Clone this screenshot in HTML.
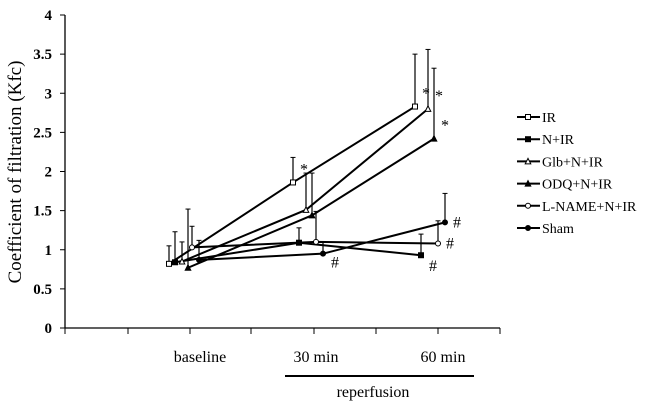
<!DOCTYPE html>
<html><head><meta charset="utf-8"><style>
body{margin:0;background:#fff;}
svg{display:block;font-family:"Liberation Serif",serif;}
</style></head><body>
<svg id="chart" width="646" height="402"></svg>
<script>
const categories=["baseline","30 min","60 min"];
const seriesNames=["IR","N+IR","Glb+N+IR","ODQ+N+IR","L-NAME+N+IR","Sham"];
const valIR=[0.82,1.86,2.83];
const valNIR=[0.84,1.09,0.93];
const valGlb=[0.85,1.51,2.80];
const valODQ=[0.77,1.44,2.42];
const valLN=[1.03,1.10,1.08];
const valSham=[0.87,0.95,1.35];
const errIR=[1.05,2.18,3.50];
const errNIR=[1.23,1.28,1.20];
const errGlb=[1.10,1.98,3.56];
const errODQ=[1.52,1.98,3.32];
const errLN=[1.30,1.49,1.37];
const errSham=[1.12,1.10,1.72];
const yTicks=[0,0.5,1,1.5,2,2.5,3,3.5,4];
const yTickLabels=["0","0.5","1","1.5","2","2.5","3","3.5","4"];
const sigLabels=[["","*","*"],["","","#"],["","","*"],["","","*"],["","","#"],["","#","#"]];

const NS="http://www.w3.org/2000/svg";
const svg=document.getElementById('chart');
function el(t,a,p){const e=document.createElementNS(NS,t);for(const k in a)e.setAttribute(k,a[k]);(p||svg).appendChild(e);return e;}
const y=v=>328-v*78.25;
const catX=[186,310,432];
const offs=[-17,-11,-4,2,6,13];
const x=(c,s)=>catX[c]+offs[s];

const ax=el('line',{x1:65,y1:328,x2:500,y2:328,stroke:'#000','stroke-width':1.3});

const ay=el('line',{x1:65,y1:15,x2:65,y2:328,stroke:'#000','stroke-width':1.3});

yTicks.forEach((v,i)=>{
  el('line',{x1:60,y1:y(v),x2:65,y2:y(v),stroke:'#000'});
  const t=el('text',{x:52,y:y(v)+5,'text-anchor':'end','font-size':15,'font-weight':'bold'});
  t.textContent=yTickLabels[i];
  
});
[65,128,190,251,314,376,438,500].forEach(tx=>el('line',{x1:tx,y1:328,x2:tx,y2:334,stroke:'#000'}));
const labX=[200,316,443];
categories.forEach((c,i)=>{
  const t=el('text',{x:labX[i],y:362,'text-anchor':'middle','font-size':16});
  t.textContent=c;
  
});
el('line',{x1:285,y1:376,x2:474,y2:376,stroke:'#000','stroke-width':2});
const rp=el('text',{x:373,y:397,'text-anchor':'middle','font-size':16});rp.textContent='reperfusion';

const yt=el('text',{transform:'translate(21,172) rotate(-90)','text-anchor':'middle','font-size':19});
yt.textContent='Coefficient of filtration (Kfc)';


const vals=[valIR,valNIR,valGlb,valODQ,valLN,valSham];
const errs=[errIR,errNIR,errGlb,errODQ,errLN,errSham];
const markers=['sq-open','sq','tri-open','tri','circ-open','circ'];
function marker(kind,cx,cy,g){
  if(kind.startsWith('sq'))el('rect',{x:cx-2.5,y:cy-2.5,width:5,height:5,fill:kind==='sq'?'#000':'#fff',stroke:'#000'},g);
  else if(kind.startsWith('tri'))el('polygon',{points:`${cx},${cy-3} ${cx-2.8},${cy+2.5} ${cx+2.8},${cy+2.5}`,fill:kind==='tri'?'#000':'#fff',stroke:'#000'},g);
  else el('circle',{cx:cx,cy:cy,r:2.5,fill:kind==='circ'?'#000':'#fff',stroke:'#000'},g);
}
vals.forEach((vs,s)=>{
  const g=el('g',{});
  
  
  vs.forEach((v,c)=>{
    const ex=x(c,s);
    el('line',{x1:ex,y1:y(v),x2:ex,y2:y(errs[s][c]),stroke:'#000','stroke-width':1.2},g);
    el('line',{x1:ex-2.5,y1:y(errs[s][c]),x2:ex+2.5,y2:y(errs[s][c]),stroke:'#000','stroke-width':1},g);
  });
  el('polyline',{points:vs.map((v,c)=>x(c,s)+','+y(v)).join(' '),fill:'none',stroke:'#000','stroke-width':2},g);
  vs.forEach((v,c)=>{
    marker(markers[s],x(c,s),y(v),g);
    const lab=sigLabels[s][c];
    if(lab){const t=el('text',{x:x(c,s)+(lab==='*'?7:8),y:y(v)+(lab==='*'?-8:(s===5&&c===1?14:(s===1?16:5))),'font-size':16},g);t.textContent=lab;}
  });
});
seriesNames.forEach((n,i)=>{
  const g=el('g',{});
  
  const ly=117+i*22.2;
  el('line',{x1:517,y1:ly,x2:540,y2:ly,stroke:'#000','stroke-width':2},g);
  marker(markers[i],528,ly,g);
  const t=el('text',{x:542,y:ly+5,'font-size':14},g);t.textContent=n;
});
</script>
</body></html>
